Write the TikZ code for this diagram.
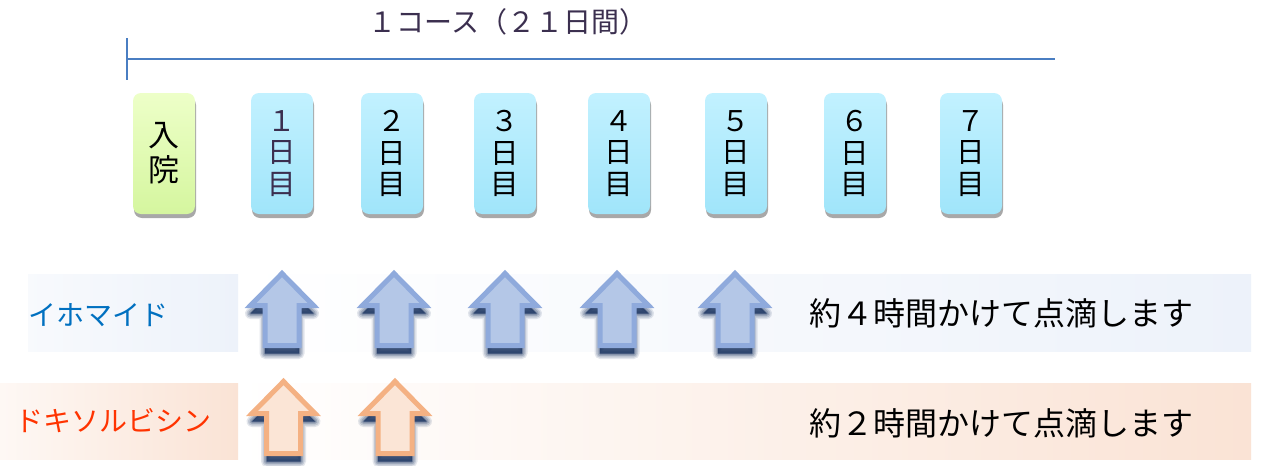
\documentclass[tikz,border=0pt]{standalone}
\usepackage{fontspec}
\setmainfont{Noto Sans CJK JP}
\usetikzlibrary{shadows}
\definecolor{titlecol}{HTML}{3B2F4F}
\definecolor{linecol}{HTML}{4A7EC2}
\definecolor{daytop}{HTML}{C2F1FF}
\definecolor{daybot}{HTML}{A0E5FA}
\definecolor{admtop}{HTML}{EDFFC8}
\definecolor{admbot}{HTML}{D5F69F}
\definecolor{ifoblue}{HTML}{0070C0}
\definecolor{doxred}{HTML}{FF3300}
\definecolor{bandblue}{HTML}{EDF2FA}
\definecolor{bandpeach}{HTML}{FAE3D5}
\definecolor{arrbfill}{HTML}{B4C7E7}
\definecolor{arrbdraw}{HTML}{8FAADC}
\definecolor{arrofill}{HTML}{FBE5D6}
\definecolor{arrodraw}{HTML}{F4B183}
\definecolor{shadowcol}{HTML}{1F3864}
\tikzset{
  daybox/.style={rectangle, rounded corners=8pt, minimum width=62pt, minimum height=121pt,
    inner sep=0pt, align=center, font=\fontsize{28.5}{31.5}\selectfont,
    top color=daytop, bottom color=daybot,
    drop shadow={shadow xshift=1pt, shadow yshift=-4pt, fill=black!45, opacity=0.75}},
  admbox/.style={daybox, top color=admtop, bottom color=admbot, font=\fontsize{31}{35}\selectfont},
  labeltext/.style={font=\fontsize{28}{30}\selectfont, inner sep=0pt},
  infotext/.style={font=\fontsize{32}{36}\selectfont, inner sep=0pt, text=black},
  bluearrow/.style={fill=arrbfill, draw=arrbdraw, line width=5pt},
  orangearrow/.style={fill=arrofill, draw=arrodraw, line width=5pt},
  arrowshape/.pic={\path[pic actions] (0,0) -- (31.5,32) -- (17,32) -- (17,72) -- (-17,72) -- (-17,32) -- (-31.5,32) -- cycle;},
}
\newcommand\upblock[3]{%
  \foreach \w/\o in {11/0.12,8/0.16,5/0.22,2/0.3}{%
    \pic[draw=shadowcol, line width=\w pt, draw opacity=\o, line join=round] at (#1,#2+8) {arrowshape};}
  \pic[fill=shadowcol, fill opacity=0.85] at (#1,#2+8) {arrowshape};
  \pic[#3] at (#1,#2) {arrowshape};
}
\begin{document}
\begin{tikzpicture}[x=1pt,y=-1pt]
\useasboundingbox (0,0) rectangle (1262,466);
\fill[white] (0,0) rectangle (1262,466);
% title and timeline
\node[font=\fontsize{28}{30}\selectfont, text=titlecol, inner sep=0pt] (title) at (508,22) {１コース（２１日間）};
\coordinate (ls) at (127,59);
\coordinate (le) at (1055,59);
\coordinate (tt) at (127,38);
\coordinate (tb) at (127,80);
\draw[linecol, line width=1.6pt] (ls) -- (le);
\draw[linecol, line width=2pt] (tt) -- (tb);
% day boxes
\node[admbox] (adm) at (164,153.5) {入\\院};
\node[daybox, text=titlecol] (d1) at (282,153.5) {１\\日\\目};
\node[daybox] (d2) at (392,153.5) {２\\日\\目};
\node[daybox] (d3) at (505,153.5) {３\\日\\目};
\node[daybox] (d4) at (619,153.5) {４\\日\\目};
\node[daybox] (d5) at (736,153.5) {５\\日\\目};
\node[daybox] (d6) at (855,153.5) {６\\日\\目};
\node[daybox] (d7) at (971,153.5) {７\\日\\目};
% bands
\shade[left color=bandblue!40, right color=bandblue] (28,274) rectangle (238,351);
\shade[left color=white, right color=bandblue] (240,274) rectangle (1251,351);
\shade[left color=bandpeach!25, right color=bandpeach] (0,383) rectangle (238,459);
\shade[left color=white, right color=bandpeach] (240,383) rectangle (1251,459);
% arrows
\upblock{282}{273.5}{bluearrow}
\upblock{394}{273.5}{bluearrow}
\upblock{505}{273.5}{bluearrow}
\upblock{617}{273.5}{bluearrow}
\upblock{735}{273.5}{bluearrow}
\upblock{283.5}{381.5}{orangearrow}
\upblock{395}{381.5}{orangearrow}
% labels
\node[labeltext, text=ifoblue] (ifo) at (98,315) {イホマイド};
\node[labeltext, text=doxred] (dox) at (114,421) {ドキソルビシン};
\node[infotext] (t1) at (1001,313) {約４時間かけて点滴します};
\node[infotext] (t2) at (1001,423) {約２時間かけて点滴します};
\end{tikzpicture}
\end{document}
